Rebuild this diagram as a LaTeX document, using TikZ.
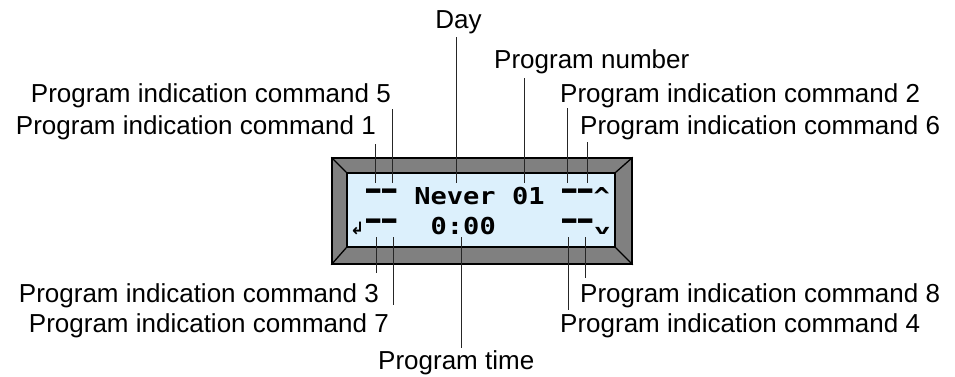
\documentclass[tikz,border=0pt]{standalone}
\usepackage{fontspec}
\usepackage{graphicx}
\setmainfont{Liberation Sans}
\newfontfamily\lcdfont{DejaVu Sans Mono}[FakeStretch=1.16]
\newfontfamily\symfont{DejaVu Sans}
\definecolor{framegray}{RGB}{128,128,128}
\definecolor{lcdblue}{RGB}{220,240,252}
\newcommand{\lcddash}{\makebox[16.3pt]{\raisebox{3pt}{\scalebox{0.88}[1.6]{–}}}}
\begin{document}
\begin{tikzpicture}[x=1pt,y=-1pt,
  lbl/.style={inner sep=0pt, font=\fontsize{26}{30}\selectfont},
  lcd/.style={inner sep=0pt, anchor=base west, font=\lcdfont\bfseries\fontsize{23.3}{26}\selectfont},
  lead/.style={line width=0.9pt, draw=black!85},
  bevel/.style={line width=1.3pt, draw=black}]
\useasboundingbox (0,0) rectangle (955,376);

% display frame
\node[draw=black, fill=framegray, line width=1.5pt, minimum width=300pt, minimum height=106pt, inner sep=0pt] (frame) at (482,211) {};
\node[draw=black, fill=lcdblue, line width=1.5pt, minimum width=268pt, minimum height=74pt, inner sep=0pt] (screen) at (481,210) {};
\draw[bevel] (frame.north west) -- (screen.north west);
\draw[bevel] (frame.north east) -- (screen.north east);
\draw[bevel] (frame.south west) -- (screen.south west);
\draw[bevel] (frame.south east) -- (screen.south east);

% LCD line 1
\node[lcd] (c1a) at (365.3,204) {\lcddash\lcddash};
\node[lcd] (cday) at (414.2,204) {Never};
\node[lcd] (cnum) at (512,204) {01};
\node[lcd] (c1b) at (560.9,204) {\lcddash\lcddash};
\node[lcd] (cup) at (593.5,204) {\textasciicircum};
% LCD line 2
\node[lcd, font=\symfont\bfseries\fontsize{17}{18}\selectfont] (cret) at (350,234) {↲};
\node[lcd] (c2a) at (365.3,234) {\lcddash\lcddash};
\node[lcd] (ctime) at (430.5,234) {0:00};
\node[lcd] (c2b) at (560.9,234) {\lcddash\lcddash};
\node[lcd] (cdown) at (594,234) {\scalebox{1.8}[1]{\fontsize{13}{14}\selectfont v}};

% labels
\node[lbl, anchor=base] (lday) at (458.5,28) {Day};
\node[lbl, anchor=base west] (lnum) at (494,68) {Program number};
\node[lbl, anchor=base east] (l5) at (391,102) {Program indication command 5};
\node[lbl, anchor=base east] (l1) at (376,134) {Program indication command 1};
\node[lbl, anchor=base west] (l2) at (560,102) {Program indication command 2};
\node[lbl, anchor=base west] (l6) at (580,134) {Program indication command 6};
\node[lbl, anchor=base east] (l3) at (379,302) {Program indication command 3};
\node[lbl, anchor=base east] (l7) at (389,332) {Program indication command 7};
\node[lbl, anchor=base west] (ltime) at (378,369) {Program time};
\node[lbl, anchor=base west] (l8) at (580,302) {Program indication command 8};
\node[lbl, anchor=base west] (l4) at (560,332) {Program indication command 4};

% leader end points
\coordinate (p5a) at (392,109);   \coordinate (p5b) at (392,183);
\coordinate (p1a) at (375,144);   \coordinate (p1b) at (375,183);
\coordinate (pdaya) at (456,37);  \coordinate (pdayb) at (456,183);
\coordinate (pnuma) at (524,78);  \coordinate (pnumb) at (524,183);
\coordinate (p2a) at (567,108);   \coordinate (p2b) at (567,183);
\coordinate (p6a) at (587,142);   \coordinate (p6b) at (587,183);
\coordinate (p3a) at (376,237);   \coordinate (p3b) at (376,273);
\coordinate (p7a) at (393,237);   \coordinate (p7b) at (393,305);
\coordinate (pta) at (461,237);   \coordinate (ptb) at (461,348);
\coordinate (p8a) at (585,237);   \coordinate (p8b) at (585,278);
\coordinate (p4a) at (568,237);   \coordinate (p4b) at (568,310);

\draw[lead] (p5a) -- (p5b);
\draw[lead] (p1a) -- (p1b);
\draw[lead] (pdaya) -- (pdayb);
\draw[lead] (pnuma) -- (pnumb);
\draw[lead] (p2a) -- (p2b);
\draw[lead] (p6a) -- (p6b);
\draw[lead] (p3a) -- (p3b);
\draw[lead] (p7a) -- (p7b);
\draw[lead] (pta) -- (ptb);
\draw[lead] (p8a) -- (p8b);
\draw[lead] (p4a) -- (p4b);
\end{tikzpicture}
\end{document}
